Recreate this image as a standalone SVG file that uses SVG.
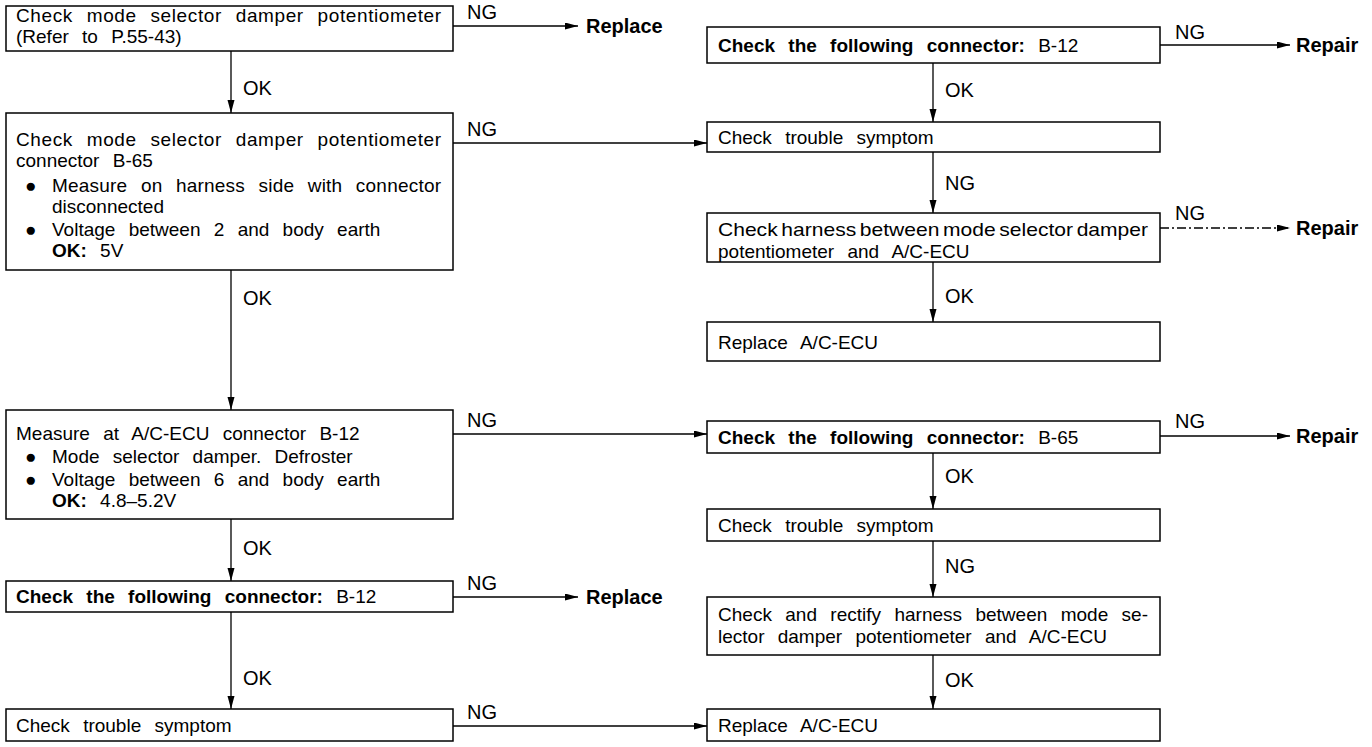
<svg xmlns="http://www.w3.org/2000/svg" width="1372" height="747" viewBox="0 0 1372 747">
<style>
.box{fill:#fff;stroke:#000;stroke-width:1.5}
.t{font-family:"Liberation Sans",Arial,sans-serif;font-size:19px;fill:#000;word-spacing:8px}
.b{font-weight:bold}
.lbl{font-family:"Liberation Sans",Arial,sans-serif;font-size:20px;fill:#000}
.res{font-family:"Liberation Sans",Arial,sans-serif;font-size:20px;font-weight:bold;fill:#000}
.c{stroke:#000;stroke-width:1.3;fill:none;marker-end:url(#ah)}
.d{stroke-dasharray:9 3 2 3}
</style>
<defs>
<marker id="ah" markerUnits="userSpaceOnUse" markerWidth="14" markerHeight="8" refX="13" refY="3.5" orient="auto"><path d="M0,0 L13,3.5 L0,7 z" fill="#000"/></marker>
</defs>
<rect width="1372" height="747" fill="#fff"/>
<g id="connectors">
<line class="c" x1="231" y1="51" x2="231" y2="113"/>
<line class="c" x1="231" y1="270" x2="231" y2="410"/>
<line class="c" x1="231" y1="519" x2="231" y2="581"/>
<line class="c" x1="231" y1="612" x2="231" y2="709"/>
<line class="c" x1="453" y1="26" x2="578" y2="26"/>
<line class="c" x1="453" y1="143" x2="707" y2="143"/>
<line class="c" x1="453" y1="434" x2="707" y2="434"/>
<line class="c" x1="453" y1="597" x2="578" y2="597"/>
<line class="c" x1="453" y1="726" x2="707" y2="726"/>
<line class="c" x1="933" y1="63" x2="933" y2="122"/>
<line class="c" x1="933" y1="152" x2="933" y2="213"/>
<line class="c" x1="933" y1="262" x2="933" y2="322"/>
<line class="c" x1="933" y1="453" x2="933" y2="509"/>
<line class="c" x1="933" y1="541" x2="933" y2="597"/>
<line class="c" x1="933" y1="655" x2="933" y2="709"/>
<line class="c" x1="1160" y1="45" x2="1290" y2="45"/>
<line class="c d" x1="1160" y1="228" x2="1290" y2="228"/>
<line class="c" x1="1160" y1="436" x2="1290" y2="436"/>
<g class="lbl">
<text x="243" y="95">OK</text>
<text x="243" y="305">OK</text>
<text x="243" y="555">OK</text>
<text x="243" y="685">OK</text>
<text x="467" y="19">NG</text>
<text x="467" y="136">NG</text>
<text x="467" y="427">NG</text>
<text x="467" y="590">NG</text>
<text x="467" y="719">NG</text>
<text x="945" y="97">OK</text>
<text x="945" y="190">NG</text>
<text x="945" y="303">OK</text>
<text x="945" y="483">OK</text>
<text x="945" y="573">NG</text>
<text x="945" y="687">OK</text>
<text x="1175" y="39">NG</text>
<text x="1175" y="220">NG</text>
<text x="1175" y="428">NG</text>
</g>
<g class="res">
<text x="586" y="33">Replace</text>
<text x="586" y="604">Replace</text>
<text x="1296" y="52">Repair</text>
<text x="1296" y="235">Repair</text>
<text x="1296" y="443">Repair</text>
</g>
</g>
<g id="nodeA"><rect class="box" x="6" y="6" width="447" height="45"/>
<text class="t" x="16" y="22" textLength="425" lengthAdjust="spacing">Check mode selector damper potentiometer</text>
<text class="t" x="16" y="43">(Refer to P.55-43)</text></g>
<g id="nodeB"><rect class="box" x="6" y="113" width="447" height="157"/>
<text class="t" x="16" y="146" textLength="425" lengthAdjust="spacing">Check mode selector damper potentiometer</text>
<text class="t" x="16" y="167">connector B-65</text>
<text class="t" x="25" y="192">●</text>
<text class="t" x="52" y="192" textLength="389" lengthAdjust="spacing">Measure on harness side with connector</text>
<text class="t" x="52" y="213">disconnected</text>
<text class="t" x="25" y="236">●</text>
<text class="t" x="52" y="236">Voltage between 2 and body earth</text>
<text class="t" x="52" y="257"><tspan class="b">OK:</tspan>  5V</text></g>
<g id="nodeC"><rect class="box" x="6" y="410" width="447" height="109"/>
<text class="t" x="16" y="440">Measure at A/C-ECU connector B-12</text>
<text class="t" x="25" y="463">●</text>
<text class="t" x="52" y="463">Mode selector damper. Defroster</text>
<text class="t" x="25" y="486">●</text>
<text class="t" x="52" y="486">Voltage between 6 and body earth</text>
<text class="t" x="52" y="507"><tspan class="b">OK:</tspan>  4.8–5.2V</text></g>
<g id="nodeD"><rect class="box" x="6" y="581" width="447" height="31"/>
<text class="t" x="16" y="603"><tspan class="b">Check the following connector:</tspan> B-12</text></g>
<g id="nodeE"><rect class="box" x="6" y="709" width="447" height="32"/>
<text class="t" x="16" y="732">Check trouble symptom</text></g>
<g id="nodeF"><rect class="box" x="707" y="27" width="453" height="36"/>
<text class="t" x="718" y="52"><tspan class="b">Check the following connector:</tspan> B-12</text></g>
<g id="nodeG"><rect class="box" x="707" y="122" width="453" height="30"/>
<text class="t" x="718" y="144">Check trouble symptom</text></g>
<g id="nodeH"><rect class="box" x="707" y="213" width="453" height="49"/>
<text class="t" x="718" y="236" style="word-spacing:-2px" textLength="430" lengthAdjust="spacingAndGlyphs">Check harness between mode selector damper</text>
<text class="t" x="718" y="258">potentiometer and A/C-ECU</text></g>
<g id="nodeI"><rect class="box" x="707" y="322" width="453" height="39"/>
<text class="t" x="718" y="349">Replace A/C-ECU</text></g>
<g id="nodeJ"><rect class="box" x="707" y="421" width="453" height="32"/>
<text class="t" x="718" y="444"><tspan class="b">Check the following connector:</tspan> B-65</text></g>
<g id="nodeK"><rect class="box" x="707" y="509" width="453" height="32"/>
<text class="t" x="718" y="532">Check trouble symptom</text></g>
<g id="nodeL"><rect class="box" x="707" y="597" width="453" height="58"/>
<text class="t" x="718" y="621" textLength="430" lengthAdjust="spacing">Check and rectify harness between mode se-</text>
<text class="t" x="718" y="643">lector damper potentiometer and A/C-ECU</text></g>
<g id="nodeM"><rect class="box" x="707" y="709" width="453" height="32"/>
<text class="t" x="718" y="732">Replace A/C-ECU</text></g>
</svg>
